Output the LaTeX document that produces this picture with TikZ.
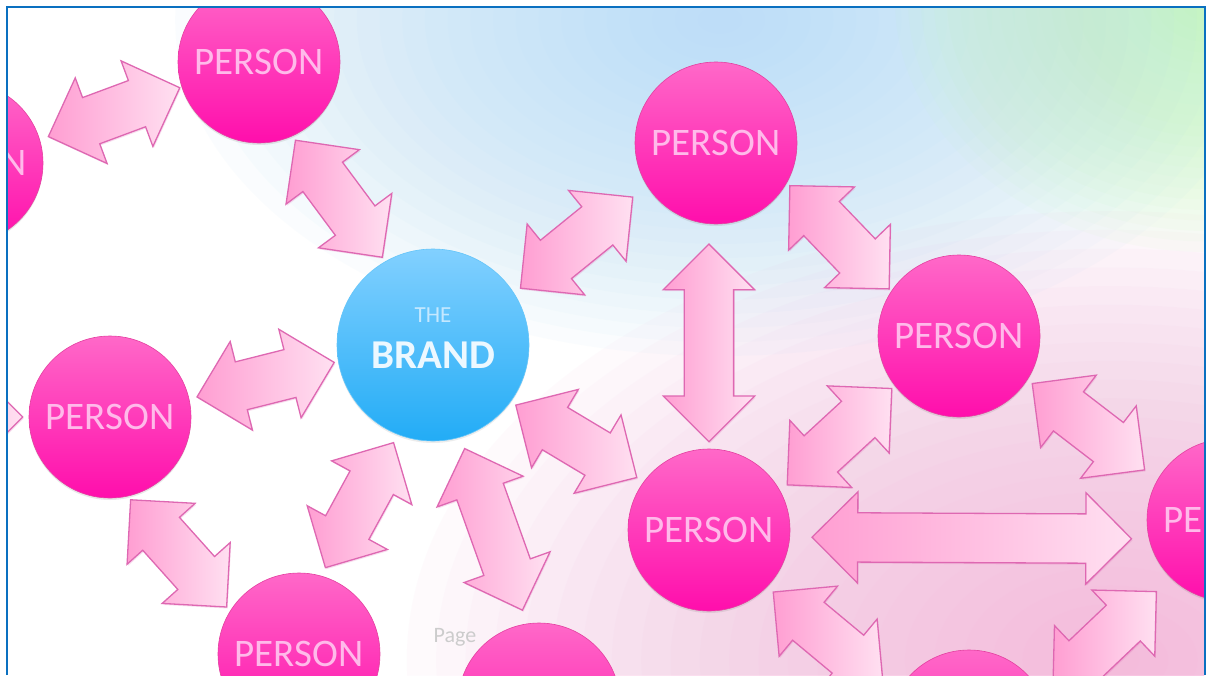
\documentclass[tikz,border=0pt]{standalone}
\usepackage{fontspec}
\setmainfont{Carlito}
\usetikzlibrary{calc, shapes.arrows, shadows}
\definecolor{cFrame}{RGB}{10,112,192}
\definecolor{cPtop}{RGB}{255,104,200}
\definecolor{cPbot}{RGB}{255,14,172}
\definecolor{cPedge}{RGB}{228,64,160}
\definecolor{cPtext}{RGB}{255,186,234}
\definecolor{cBtop}{RGB}{130,208,255}
\definecolor{cBbot}{RGB}{34,172,246}
\definecolor{cBtext}{RGB}{236,248,255}
\definecolor{cBthe}{RGB}{196,232,255}
\definecolor{cAdark}{RGB}{255,158,210}
\definecolor{cAlight}{RGB}{255,224,241}
\definecolor{cAedge}{RGB}{222,104,178}
\definecolor{cSky}{RGB}{176,218,248}
\definecolor{cLeaf}{RGB}{194,250,180}
\definecolor{cBlush}{RGB}{244,168,212}
\definecolor{cPage}{RGB}{204,204,204}
\tikzstyle{Person}=[circle,
		minimum size = 162pt,
		inner sep = 0pt,
		top color = cPtop,
		bottom color = cPbot,
		draw = cPedge,
		line width = 0.6pt,
		text = cPtext,
		font = \fontsize{39}{44}\selectfont,
		drop shadow = {shadow xshift=0pt, shadow yshift=-2pt, opacity=.18}]
\tikzstyle{Brand}=[circle,
		minimum size = 192pt,
		inner sep = 0pt,
		top color = cBtop,
		bottom color = cBbot,
		draw = cBbot!70!white,
		line width = 0.6pt,
		drop shadow = {shadow xshift=0pt, shadow yshift=-2pt, opacity=.15}]
\tikzstyle{TwoWay}=[double arrow,
		double arrow head extend = 21pt,
		double arrow tip angle = 90,
		inner xsep = 0pt,
		inner ysep = 24pt,
		left color = cAdark,
		right color = cAlight,
		draw = cAedge,
		line width = 1.3pt,
		drop shadow = {shadow xshift=1pt, shadow yshift=-1.5pt, opacity=.22, fill=cAedge}]
% double arrow between two circle borders: name, node, angle, gap, node, angle, gap
\newcommand{\biarrow}[7]{%
  \coordinate (#1a) at ($(#2.#3)!-#4pt!(#2)$);
  \coordinate (#1b) at ($(#5.#6)!-#7pt!(#5)$);
  \path let \p1 = ($(#1b)-(#1a)$), \n1 = {atan2(\y1,\x1)}, \n2 = {veclen(\x1,\y1)} in
    node[TwoWay, rotate=\n1, minimum height=\n2] (#1) at ($(#1a)!0.5!(#1b)$) {};}
\begin{document}
\begin{tikzpicture}[x=1pt,y=-1pt]
  \useasboundingbox (0,0) rectangle (1207,675);
  \fill[white] (0,0) rectangle (1207,675);
  \begin{scope}
  \clip (8,8) rectangle (1204,675);
  % background glow, built up from faint rings
  \foreach \k in {1,...,24} {
    \fill[cSky, opacity=.055] (720,20) ellipse ({\k*22.7} and {\k*14});
    \fill[cBlush, opacity=.048] (1110,660) ellipse ({\k*29.3} and {\k*18.7});
    \fill[cLeaf, opacity=.06] (1207,0) ellipse ({\k*13} and {\k*10.5});
  }

  % the brand
  \node [Brand] (brand) at (433,345) {};
  \node [align=center, font=\fontsize{41}{46}\selectfont\bfseries, text=cBtext, yshift=7pt] (brandname) at (brand)
    {{\fontsize{23}{46}\selectfont\mdseries\color{cBthe}THE}\\BRAND};

  % people
  \node [Person] (P0) at (-38,163) {PERSON};
  \node [Person] (P1) at (259,62) {PERSON};
  \node [Person] (P2) at (716,143) {PERSON};
  \node [Person] (P3) at (959,336) {PERSON};
  \node [Person] (P4) at (110,417) {PERSON};
  \node [Person] (P5) at (709,530) {PERSON};
  \node [Person] (P6) at (1228,520) {PERSON};
  \node [Person] (P7) at (299,654) {PERSON};
  \node [Person] (P8) at (539,704) {};
  \node [Person] (P9) at (969,731) {};

  \node [text=cPage, font=\fontsize{22}{26}\selectfont, anchor=base] (page) at (455,642) {Page};

  % two-way links
  \biarrow{a1}{P0}{17}{9}{P1}{198}{2}
  \biarrow{a2}{P1}{295}{5}{brand}{120}{5}
  \biarrow{a3}{P4}{13}{8}{brand}{190}{4}
  \biarrow{a4}{brand}{33}{8}{P2}{213}{18}
  \biarrow{a5}{P5}{90}{7}{P2}{266}{20}
  \biarrow{a6}{P2}{330}{4}{P3}{146}{3}
  \biarrow{a7}{P5}{30}{9}{P3}{218}{4}
  \biarrow{a8}{brand}{324}{6}{P5}{144}{8}
  \biarrow{a9}{P7}{73}{9}{brand}{248}{9}
  \biarrow{a10}{brand}{287}{12}{P8}{100}{14}
  \biarrow{a11}{P4}{284}{4}{P7}{147}{5}
  \biarrow{a12}{P3}{327}{6}{P6}{149}{16}
  \biarrow{a13}{P5}{356}{22}{P6}{191}{17}
  \biarrow{a14}{P5}{316}{8}{P9}{151}{17}
  \biarrow{a15}{P9}{26}{12}{P6}{225}{20}
  \biarrow{a16}{P4}{180}{149}{P4}{180}{6}
  \end{scope}

  % frame
  \draw [cFrame, line width=2pt] (7,675) -- (7,7) -- (1205,7) -- (1205,675);
\end{tikzpicture}
\end{document}
